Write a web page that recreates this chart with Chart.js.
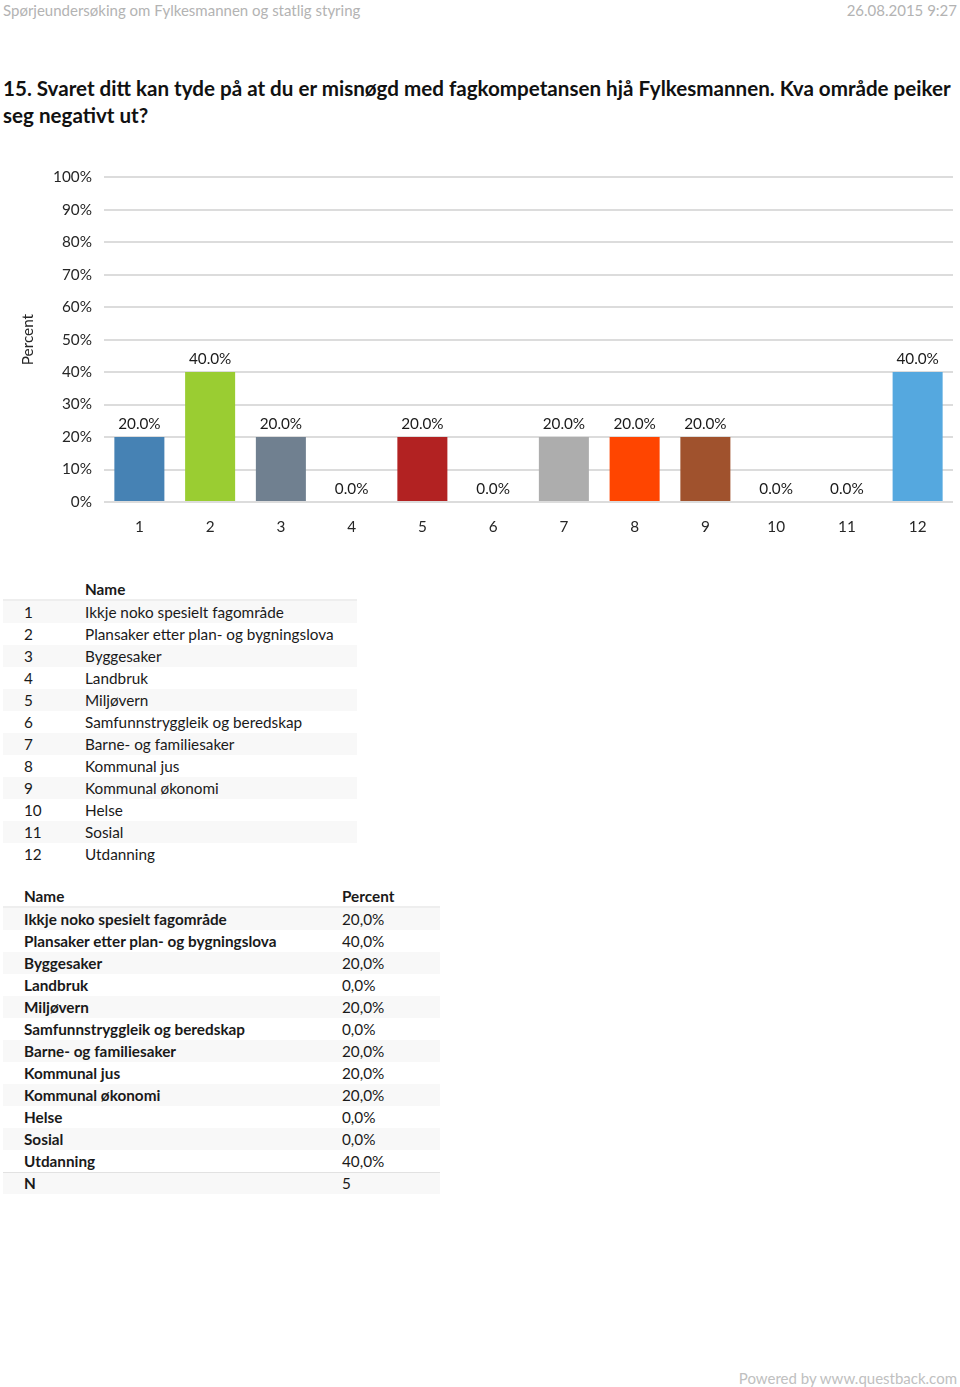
<!DOCTYPE html>
<html>
<head>
<meta charset="utf-8">
<script src="https://cdn.jsdelivr.net/npm/chart.js@4.4.1/dist/chart.umd.min.js"></script>
<style>
  body { margin: 0; width: 960px; height: 1387px; position: relative; background: #fff;
         font-family: Lato, "Open Sans", sans-serif; color: #1a1a1a; overflow: hidden; }
  .top { position: absolute; top: 0; font-size: 15px; color: #b3b3b3; line-height: 20px; }
  #title { position: absolute; left: 3px; top: 75px; font-size: 20.6px; font-weight: bold;
           line-height: 27px; white-space: nowrap; color: #111; }
  #chartBox { position: absolute; left: 0; top: 156px; width: 960px; height: 390px; }
  table { position: absolute; border-collapse: collapse; font-size: 15.3px; }
  td, th { height: 22px; padding: 0; text-align: left; line-height: 22px; white-space: nowrap; }
  th { height: 20px; line-height: 20px; font-weight: bold; border-bottom: 2px solid #eeeeee; }
  tr.odd td { background: #f8f8f8; }
  tr.last td { box-shadow: inset 0 1px 0 #e2e2e2; }
  #legendTable { left: 3px; top: 579px; width: 354px; }
  #legendTable td:first-child, #legendTable th:first-child { width: 61px; padding-left: 21px; }
  #sumTable { left: 3px; top: 886px; width: 437px; }
  #sumTable td:first-child, #sumTable th:first-child { width: 318px; padding-left: 21px; font-weight: bold; }
  #footer { position: absolute; right: 3px; top: 1368px; font-size: 15px; color: #c0c0c0; line-height: 20px; }
</style>
</head>
<body>
<div class="top" style="left:3px;">Spørjeundersøking om Fylkesmannen og statlig styring</div>
<div class="top" style="right:3px;">26.08.2015 9:27</div>
<div id="title">15. Svaret ditt kan tyde på at du er misnøgd med fagkompetansen hjå Fylkesmannen. Kva område peiker<br>seg negativt ut?</div>

<div id="chartBox"><canvas id="chart"></canvas></div>

<table id="legendTable"><thead><tr><th></th><th>Name</th></tr></thead><tbody id="legendBody"></tbody></table>
<table id="sumTable"><thead><tr><th>Name</th><th>Percent</th></tr></thead><tbody id="sumBody"></tbody></table>

<div id="footer">Powered by www.questback.com</div>

<script>
// data
const categories = ["1", "2", "3", "4", "5", "6", "7", "8", "9", "10", "11", "12"];
const names = [
  "Ikkje noko spesielt fagområde",
  "Plansaker etter plan- og bygningslova",
  "Byggesaker",
  "Landbruk",
  "Miljøvern",
  "Samfunnstryggleik og beredskap",
  "Barne- og familiesaker",
  "Kommunal jus",
  "Kommunal økonomi",
  "Helse",
  "Sosial",
  "Utdanning"
];
const percents = [20, 40, 20, 0, 20, 0, 20, 20, 20, 0, 0, 40];
const respondents = 5;
const yTicks = [0, 10, 20, 30, 40, 50, 60, 70, 80, 90, 100];

const barColors = ["#4682b4", "#9acd32", "#708090", "#daa520", "#b22222", "#6a5acd",
                   "#adadad", "#ff4500", "#a0522d", "#2e8b57", "#8b008b", "#55a8df"];

// -------- tables --------
const legendBody = document.getElementById("legendBody");
categories.forEach((c, i) => {
  const tr = document.createElement("tr");
  if (i % 2 === 0) tr.className = "odd";
  tr.innerHTML = `<td>${c}</td><td>${names[i]}</td>`;
  legendBody.appendChild(tr);
});

const sumBody = document.getElementById("sumBody");
names.forEach((n, i) => {
  const tr = document.createElement("tr");
  if (i % 2 === 0) tr.className = "odd";
  tr.innerHTML = `<td>${n}</td><td>${percents[i].toFixed(1).replace(".", ",")}%</td>`;
  sumBody.appendChild(tr);
});
const nRow = document.createElement("tr");
nRow.className = "odd last";
nRow.innerHTML = `<td>N</td><td>${respondents}</td>`;
sumBody.appendChild(nRow);

// -------- value labels above bars --------
const barLabels = {
  id: "barLabels",
  afterDatasetsDraw(chart) {
    const ctx = chart.ctx;
    const meta = chart.getDatasetMeta(0);
    ctx.save();
    ctx.font = "15.3px Lato";
    ctx.fillStyle = "#1a1a1a";
    ctx.textAlign = "center";
    ctx.textBaseline = "middle";
    meta.data.forEach((bar, i) => {
      ctx.fillText(percents[i].toFixed(1) + "%", bar.x, bar.y - 13);
    });
    ctx.restore();
  }
};

Chart.defaults.font.family = "Lato";
Chart.defaults.font.size = 15.3;
Chart.defaults.color = "#262626";

new Chart(document.getElementById("chart"), {
  type: "bar",
  data: {
    labels: categories,
    datasets: [{
      data: percents,
      backgroundColor: barColors,
      categoryPercentage: 1,
      barPercentage: 0.707
    }]
  },
  options: {
    responsive: true,
    maintainAspectRatio: false,
    animation: false,
    layout: { padding: { top: 12, right: 7, left: 0, bottom: 0 } },
    plugins: { legend: { display: false }, tooltip: { enabled: false } },
    scales: {
      x: {
        grid: { display: false },
        border: { display: false },
        ticks: { padding: 8, color: "#262626" },
        afterFit(scale) { scale.height = 44; }
      },
      y: {
        min: 0,
        max: 100,
        afterBuildTicks(scale) { scale.ticks = yTicks.map(v => ({ value: v })); },
        grid: { color: "#dcdcdc", lineWidth: 2, drawTicks: false },
        border: { display: false },
        ticks: { padding: 12, color: "#262626", callback: v => v + "%" },
        title: { display: true, text: "Percent", color: "#262626", font: { size: 15.3 }, padding: { top: 19, bottom: 0 } },
        afterFit(scale) { scale.width = 104; }
      }
    }
  },
  plugins: [barLabels]
});
</script>
</body>
</html>
